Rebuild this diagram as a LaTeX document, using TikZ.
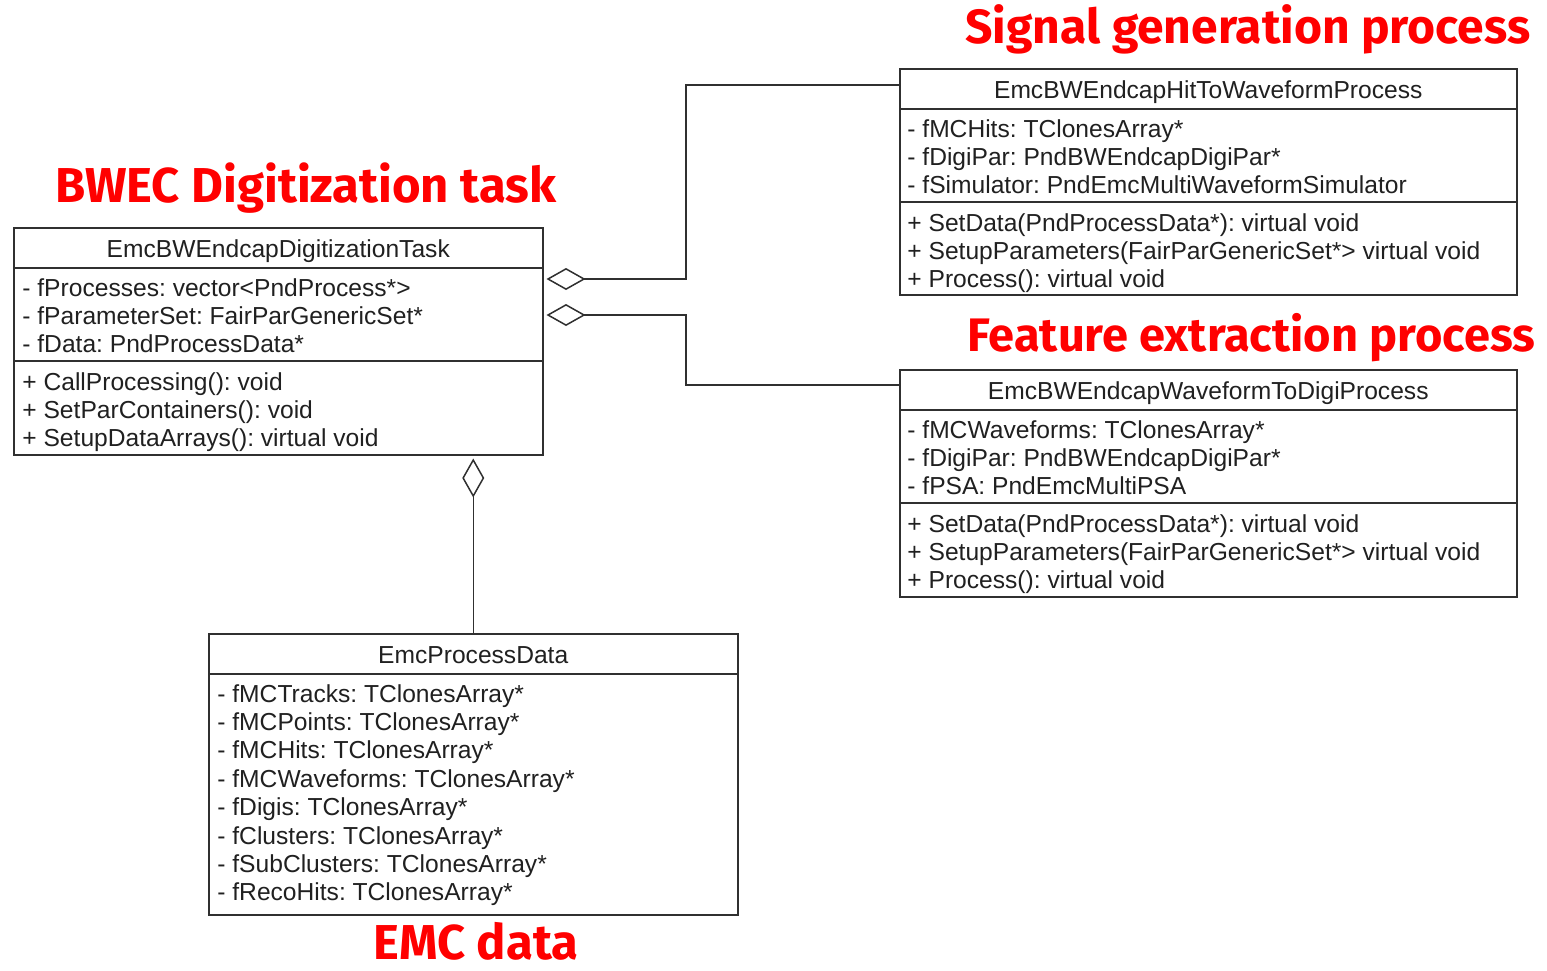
\documentclass[tikz,border=0pt]{standalone}
\usepackage{fontspec}
\setmainfont{Liberation Sans}
\newfontfamily\lblfont{Fira Sans}
\usetikzlibrary{arrows.meta}
\definecolor{linec}{HTML}{303030}
\definecolor{textc}{HTML}{202020}
\frenchspacing
\tikzset{
  classbox/.style={draw=linec, line width=0.75pt, inner sep=0pt, anchor=north west},
  member/.style={anchor=base west, inner sep=0pt, text=textc, font=\fontsize{12.3}{14}\selectfont},
  ctitle/.style={anchor=base, inner sep=0pt, text=textc, font=\fontsize{12.3}{14}\selectfont},
  aggr/.style={draw=linec, line width=0.75pt, -{Diamond[open, length=19.5pt, width=11pt]}, shorten >=1.5pt},
  redlabel/.style={anchor=base west, inner sep=0pt, text=red, font=\lblfont\bfseries\fontsize{#1}{26}\selectfont},
  redlabel/.default=24.5
}
\begin{document}
\begin{tikzpicture}[x=0.5pt, y=-0.5pt]
  \useasboundingbox (0,0) rectangle (1547,970);

  % BWEC task
  \node[classbox, minimum width=264.5pt, minimum height=113.5pt] (task) at (13,227) {};
  \node[ctitle] (taskT) at ([yshift=-15pt]task.north) {EmcBWEndcapDigitizationTask};
  \draw[linec, line width=0.75pt] ([yshift=-20.5pt]task.north west) -- ([yshift=-20.5pt]task.north east);
  \draw[linec, line width=0.75pt] ([yshift=-67pt]task.north west) -- ([yshift=-67pt]task.north east);
  \foreach \s [count=\i] in {- fProcesses: vector<PndProcess*>, - fParameterSet: FairParGenericSet*, - fData: PndProcessData*} {%
    \node[member] (taskA\i) at ([xshift=4.5pt, yshift={-34.5pt-14pt*(\i-1)}]task.north west) {\s};
  }
  \foreach \s [count=\i] in {+ CallProcessing(): void, + SetParContainers(): void, + SetupDataArrays(): virtual void} {%
    \node[member] (taskM\i) at ([xshift=4.5pt, yshift={-81.5pt-14pt*(\i-1)}]task.north west) {\s};
  }

  % Signal generation
  \node[classbox, minimum width=308.5pt, minimum height=113pt] (hit) at (899,68) {};
  \node[ctitle] (hitT) at ([yshift=-15pt]hit.north) {EmcBWEndcapHitToWaveformProcess};
  \draw[linec, line width=0.75pt] ([yshift=-20.5pt]hit.north west) -- ([yshift=-20.5pt]hit.north east);
  \draw[linec, line width=0.75pt] ([yshift=-67pt]hit.north west) -- ([yshift=-67pt]hit.north east);
  \foreach \s [count=\i] in {- fMCHits: TClonesArray*, - fDigiPar: PndBWEndcapDigiPar*, - fSimulator: PndEmcMultiWaveformSimulator} {%
    \node[member] (hitA\i) at ([xshift=4pt, yshift={-34.5pt-14pt*(\i-1)}]hit.north west) {\s};
  }
  \foreach \s [count=\i] in {+ SetData(PndProcessData*): virtual void, + SetupParameters(FairParGenericSet*> virtual void, + Process(): virtual void} {%
    \node[member] (hitM\i) at ([xshift=4pt, yshift={-81.5pt-14pt*(\i-1)}]hit.north west) {\s};
  }

  % Feature extraction
  \node[classbox, minimum width=308.5pt, minimum height=113.5pt] (digi) at (899,369) {};
  \node[ctitle] (digiT) at ([yshift=-15pt]digi.north) {EmcBWEndcapWaveformToDigiProcess};
  \draw[linec, line width=0.75pt] ([yshift=-20.5pt]digi.north west) -- ([yshift=-20.5pt]digi.north east);
  \draw[linec, line width=0.75pt] ([yshift=-67pt]digi.north west) -- ([yshift=-67pt]digi.north east);
  \foreach \s [count=\i] in {- fMCWaveforms: TClonesArray*, - fDigiPar: PndBWEndcapDigiPar*, - fPSA: PndEmcMultiPSA} {%
    \node[member] (digiA\i) at ([xshift=4pt, yshift={-34.5pt-14pt*(\i-1)}]digi.north west) {\s};
  }
  \foreach \s [count=\i] in {+ SetData(PndProcessData*): virtual void, + SetupParameters(FairParGenericSet*> virtual void, + Process(): virtual void} {%
    \node[member] (digiM\i) at ([xshift=4pt, yshift={-81.5pt-14pt*(\i-1)}]digi.north west) {\s};
  }

  % EMC data
  \node[classbox, minimum width=264.5pt, minimum height=140.5pt] (data) at (208,633) {};
  \node[ctitle] (dataT) at ([yshift=-15pt]data.north) {EmcProcessData};
  \draw[linec, line width=0.75pt] ([yshift=-20.5pt]data.north west) -- ([yshift=-20.5pt]data.north east);
  \foreach \s [count=\i] in {- fMCTracks: TClonesArray*, - fMCPoints: TClonesArray*, - fMCHits: TClonesArray*, - fMCWaveforms: TClonesArray*, - fDigis: TClonesArray*, - fClusters: TClonesArray*, - fSubClusters: TClonesArray*, - fRecoHits: TClonesArray*} {%
    \node[member] (dataA\i) at ([xshift=4.5pt, yshift={-34.5pt-14.2pt*(\i-1)}]data.north west) {\s};
  }

  % aggregations
  \draw[aggr] ([yshift=-8.5pt]hit.north west) -| (686,279) -- ([yshift=-26pt]task.north east);
  \draw[aggr] ([yshift=-8pt]digi.north west) -| (686,315) -- ([yshift=-44pt]task.north east);
  \draw[aggr] (data.north) -- (data.north |- task.south);

  % red labels
  \node[redlabel=24] (lblSig) at (965,43) {Signal generation process};
  \node[redlabel] (lblTask) at (55,202) {BWEC Digitization task};
  \node[redlabel=23.5] (lblFeat) at (967,351) {Feature extraction process};
  \node[redlabel] (lblData) at (373,959) {EMC data};
\end{tikzpicture}
\end{document}
